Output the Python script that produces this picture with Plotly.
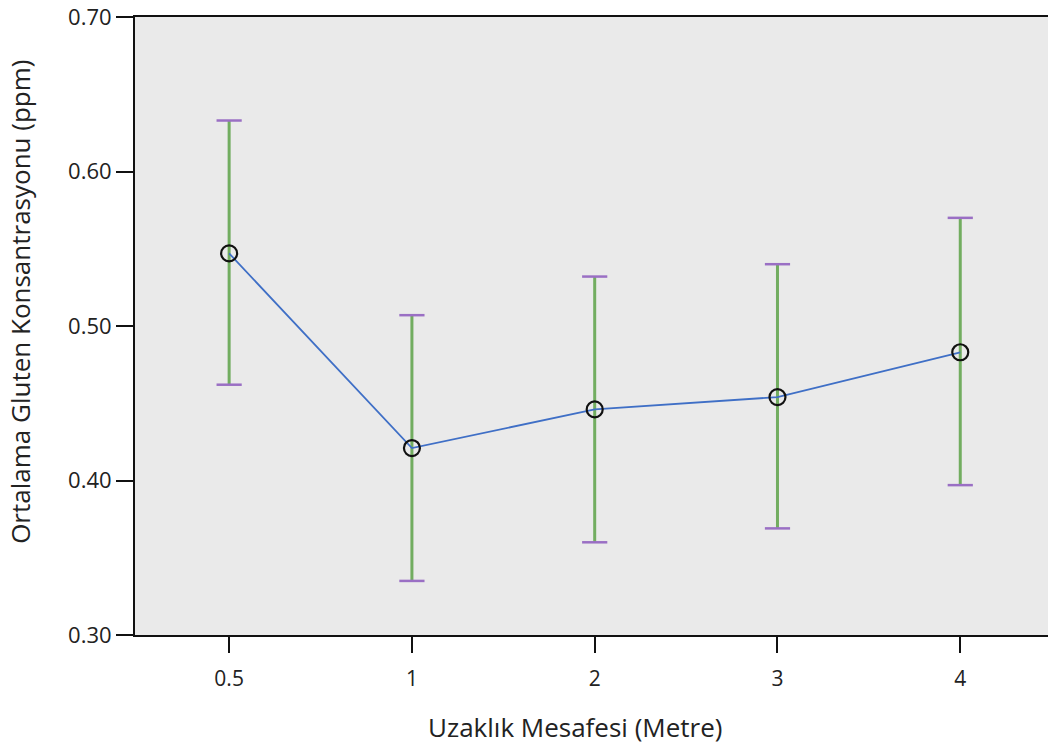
import plotly.graph_objects as go

categories = ["0.5", "1", "2", "3", "4"]
means = [0.547, 0.421, 0.446, 0.454, 0.483]
upper = [0.633, 0.507, 0.532, 0.540, 0.570]
lower = [0.462, 0.335, 0.360, 0.369, 0.397]

x_title = "Uzaklık Mesafesi (Metre)"
y_title = "Ortalama Gluten Konsantrasyonu (ppm)"

err_plus = [u - m for u, m in zip(upper, means)]
err_minus = [m - l for m, l in zip(means, lower)]

font = "Open Sans, DejaVu Sans, sans-serif"

fig = go.Figure()
# error bar stems (green)
fig.add_trace(go.Scatter(
    x=categories, y=means, mode="markers",
    marker=dict(size=1, color="rgba(0,0,0,0)"),
    error_y=dict(type="data", symmetric=False, array=err_plus, arrayminus=err_minus,
                 color="#72ad60", thickness=3, width=0),
    hoverinfo="skip", showlegend=False))
# caps (purple)
fig.add_trace(go.Scatter(
    x=categories + categories, y=upper + lower, mode="markers",
    marker=dict(symbol="line-ew", size=18, line=dict(color="#9a6fc4", width=2.5)),
    hoverinfo="skip", showlegend=False))
# mean line and markers
fig.add_trace(go.Scatter(
    x=categories, y=means, mode="lines+markers",
    line=dict(color="#3f6fc6", width=1.8),
    marker=dict(symbol="circle-open", size=16, color="#111111", line=dict(width=2.2, color="#111111")),
    showlegend=False))

fig.update_layout(
    width=1048, height=744,
    margin=dict(l=135, r=0, t=17, b=109),
    paper_bgcolor="white", plot_bgcolor="#eaeaea",
    font=dict(family=font, size=21, color="#222222"),
    showlegend=False,
    annotations=[
        dict(text=x_title, xref="paper", yref="paper", x=0.482, y=-0.149,
             xanchor="center", yanchor="middle", showarrow=False,
             font=dict(size=26, color="#222222")),
        dict(text=y_title, xref="paper", yref="paper", x=-0.126, y=0.539,
             xanchor="center", yanchor="middle", showarrow=False, textangle=-90,
             font=dict(size=26, color="#222222")),
    ],
)
fig.update_xaxes(
    type="category", range=[-0.515, 4.48],
    showgrid=False, zeroline=False, automargin=False,
    showline=True, linecolor="#111111", linewidth=2, mirror=True,
    ticks="outside", ticklen=16, tickwidth=2, tickcolor="#111111",
    ticklabelstandoff=8,
    tickfont=dict(size=21, color="#222222"),
)
fig.update_yaxes(
    range=[0.30, 0.70], tickvals=[0.30, 0.40, 0.50, 0.60, 0.70], tickformat=".2f",
    showgrid=False, zeroline=False, automargin=False,
    showline=True, linecolor="#111111", linewidth=2,
    ticks="outside", ticklen=17, tickwidth=2, tickcolor="#111111",
    tickfont=dict(size=22, color="#222222"),
)

fig.write_html("out.html")
